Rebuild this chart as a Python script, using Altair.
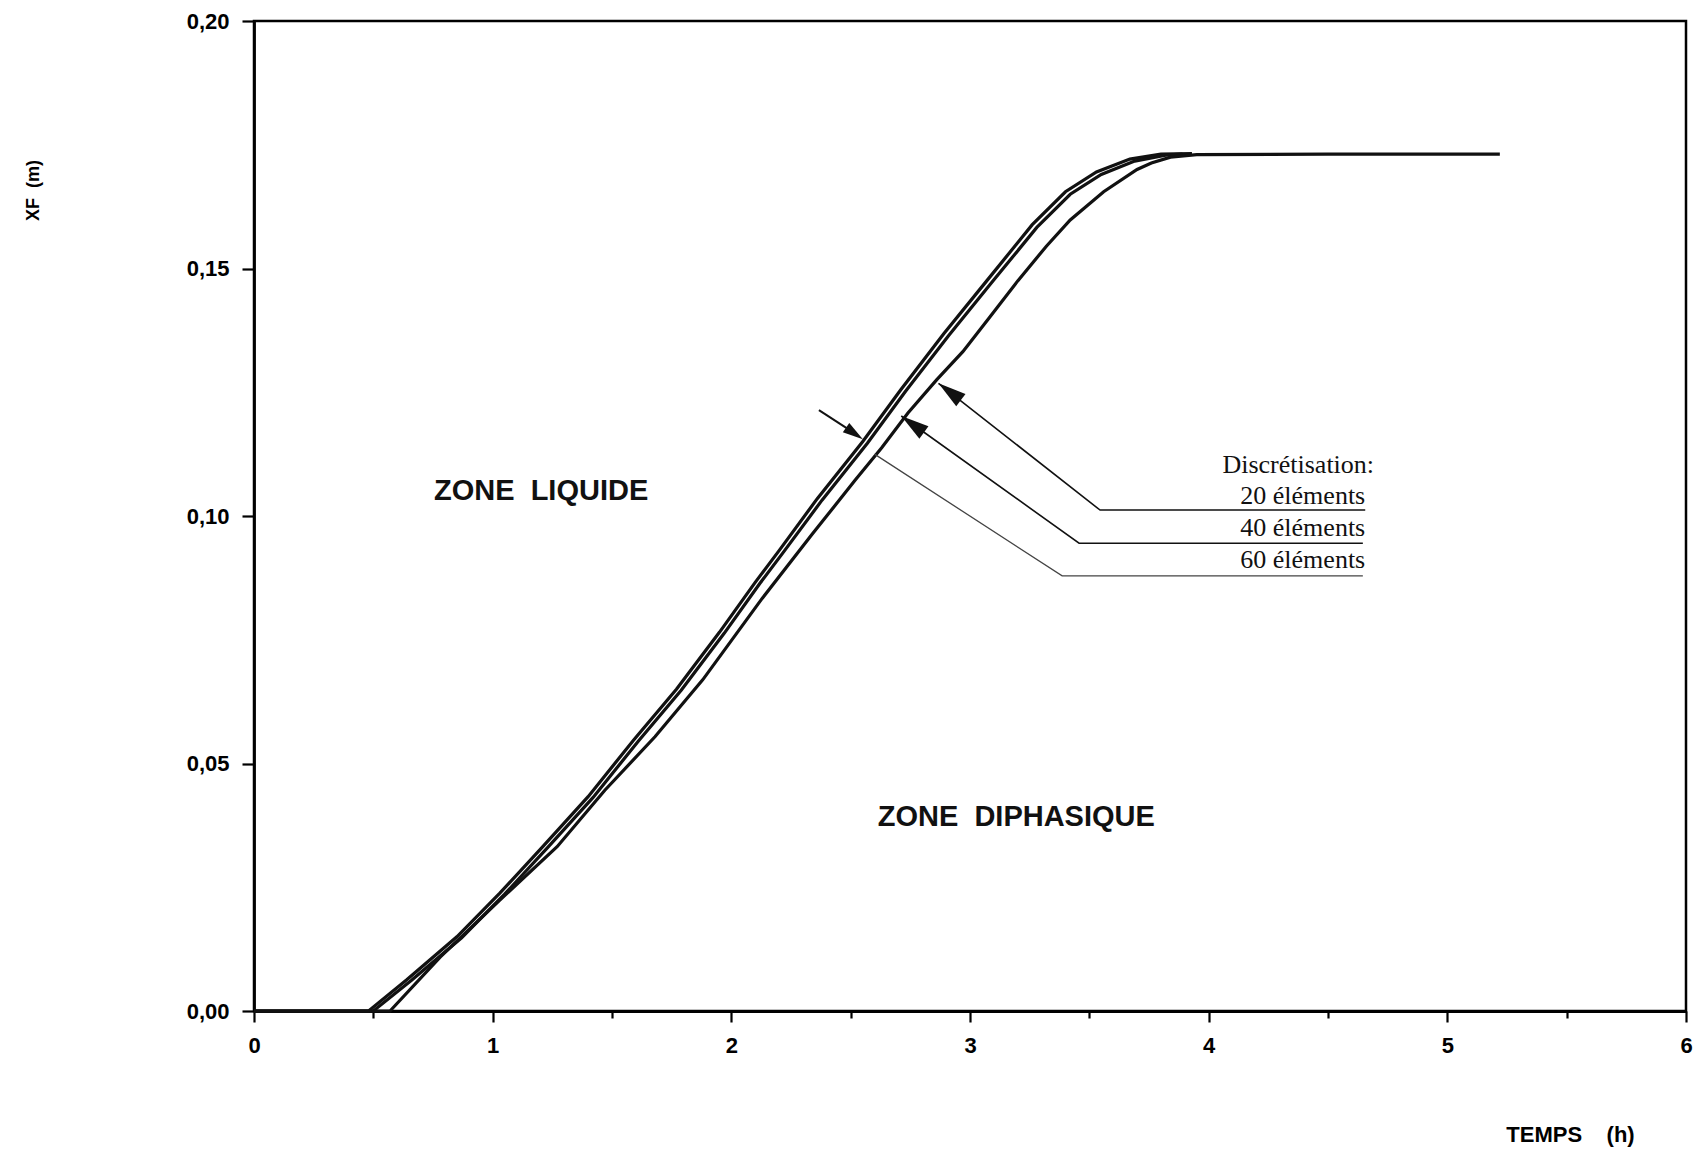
import altair as alt
import pandas as pd

NB = "\u00a0"

# ---------------- data ----------------
# Discrétisation 60 éléments (leading curve)
t_60 = [0.0, 0.25, 0.48, 0.64, 0.85, 1.03, 1.21, 1.40, 1.59, 1.77, 1.95, 2.10, 2.20, 2.36,
        2.55, 2.71, 2.89, 3.07, 3.26, 3.40, 3.53, 3.67, 3.80, 3.93]
xf_60 = [0.0, 0.0, 0.0, 0.0063, 0.0150, 0.0238, 0.0332, 0.0433, 0.0547, 0.0650, 0.0765, 0.0866,
         0.0930, 0.1035, 0.1150, 0.1255, 0.1368, 0.1475, 0.1588, 0.1655, 0.1695, 0.1721, 0.1731, 0.1732]

# Discrétisation 40 éléments (almost on top of the 60 curve)
t_40 = [0.0, 0.25, 0.50, 0.66, 0.87, 1.05, 1.23, 1.42, 1.61, 1.79, 1.97, 2.12, 2.22, 2.38,
        2.57, 2.73, 2.91, 3.09, 3.28, 3.42, 3.55, 3.69, 3.82, 3.89]
xf_40 = [0.0, 0.0, 0.0, 0.0062, 0.0148, 0.0236, 0.0330, 0.0431, 0.0545, 0.0648, 0.0763, 0.0864,
         0.0928, 0.1032, 0.1147, 0.1252, 0.1364, 0.1471, 0.1583, 0.1650, 0.1690, 0.1717, 0.1729, 0.1731]

# Discrétisation 20 éléments (lagging curve, runs to 5.22 h)
t_20 = [0.0, 0.25, 0.57, 0.78, 1.03, 1.27, 1.47, 1.68, 1.88, 2.13, 2.34, 2.52, 2.63, 2.74, 2.86,
        2.97, 3.08, 3.20, 3.32, 3.42, 3.56, 3.70, 3.76, 3.84, 3.95, 4.50, 5.00, 5.22]
xf_20 = [0.0, 0.0, 0.0, 0.0109, 0.0224, 0.0332, 0.0446, 0.0554, 0.0669, 0.0834, 0.0964, 0.1073,
         0.1138, 0.1208, 0.1275, 0.1332, 0.1400, 0.1475, 0.1545, 0.1598, 0.1655, 0.1700, 0.1713,
         0.1725, 0.1730, 0.1731, 0.1731, 0.1731]

# axis ticks
x_ticks = [0, 0.5, 1, 1.5, 2, 2.5, 3, 3.5, 4, 4.5, 5, 5.5, 6]
y_ticks = [0.0, 0.05, 0.10, 0.15, 0.20]

# annotation texts
zone_labels = ["ZONE" + NB + NB + "LIQUIDE", "ZONE" + NB + NB + "DIPHASIQUE"]
zone_t = [1.203, 3.194]
zone_xf = [0.105, 0.0392]

legend_labels = ["Discrétisation:", "20 éléments", "40 éléments", "60 éléments"]
legend_t = [4.693, 4.656, 4.656, 4.656]
legend_xf = [0.1103, 0.1040, 0.0976, 0.0911]

# leader lines: tip -> corner -> end
leader_names = ["20", "40", "60"]
leader_t = [[2.868, 3.545, 4.656], [2.712, 3.457, 4.646], [2.60, 3.386, 4.646]]
leader_xf = [[0.1268, 0.1012, 0.1012], [0.1202, 0.0945, 0.0945], [0.1125, 0.0879, 0.0879]]

# arrow heads (tip position, direction)
head_t = [2.868, 2.712, 2.551]
head_xf = [0.1268, 0.1202, 0.1155]
head_angle = [307, 306, 125]
head_size = [784, 784, 420]

# short arrow shaft for 60 éléments
shaft_t = [2.367, 2.530]
shaft_xf = [0.1214, 0.1163]

# ---------------- tables ----------------
rows = []
for name, ts, ys in [("60", t_60, xf_60), ("40", t_40, xf_40), ("20", t_20, xf_20)]:
    for i, (t, y) in enumerate(zip(ts, ys)):
        rows.append({"t": t, "xf": y, "serie": name, "k": i})
curves = pd.DataFrame(rows)

lrows = []
for name, ts, ys in zip(leader_names, leader_t, leader_xf):
    for i, (t, y) in enumerate(zip(ts, ys)):
        lrows.append({"t": t, "xf": y, "leader": name, "k": i})
leaders = pd.DataFrame(lrows)

heads = pd.DataFrame({"t": head_t, "xf": head_xf, "ang": head_angle, "sz": head_size})
shaft = pd.DataFrame({"t": shaft_t, "xf": shaft_xf, "k": [0, 1]})
zones = pd.DataFrame({"t": zone_t, "xf": zone_xf, "label": zone_labels})
legend = pd.DataFrame({"t": legend_t, "xf": legend_xf, "label": legend_labels})

# ---------------- encodings ----------------
X = alt.X(
    "t:Q",
    scale=alt.Scale(domain=[0, 6], nice=False, zero=False),
    axis=alt.Axis(
        values=x_ticks,
        labelExpr="datum.value % 1 === 0 ? format(datum.value, 'd') : ''",
        title="TEMPS" + NB * 4 + "(h)",
        titleX=1316, titleY=123, titleAlign="center", titleBaseline="middle",
        titleFont="Liberation Sans", titleFontSize=22, titleFontWeight="bold", titleColor="black",
        labelFont="Liberation Sans", labelFontSize=22, labelFontWeight="bold", labelColor="black",
        labelPadding=13, labelFlush=False, labelOverlap=False,
        tickSize={"condition": {"test": "datum.value % 1 !== 0", "value": 7}, "value": 11},
        tickWidth=2.2, tickColor="black",
        domainColor="black", domainWidth=2.8, grid=False,
    ),
)
Y = alt.Y(
    "xf:Q",
    scale=alt.Scale(domain=[0, 0.2], nice=False, zero=False),
    axis=alt.Axis(
        values=y_ticks,
        labelExpr="replace(format(datum.value, '.2f'), '.', ',')",
        title="XF" + NB * 2 + "(m)",
        titleAngle=270, titleX=-221, titleY=169, titleAlign="center", titleBaseline="middle",
        titleFont="Liberation Sans", titleFontSize=18, titleFontWeight="bold", titleColor="black",
        labelFont="Liberation Sans", labelFontSize=22, labelFontWeight="bold", labelColor="black",
        labelPadding=13, labelOverlap=False,
        tickSize=12, tickWidth=2.2, tickColor="black",
        domainColor="black", domainWidth=2.8, grid=False,
    ),
)

curve_layer = alt.Chart(curves).mark_line(color="#111111", strokeWidth=3.2).encode(
    x=X, y=Y, detail="serie:N", order="k:Q"
)

leader_main = alt.Chart(leaders).transform_filter("datum.leader !== '60'").mark_line(
    color="#111111", strokeWidth=1.6
).encode(x=X, y=Y, detail="leader:N", order="k:Q")

leader_60 = alt.Chart(leaders).transform_filter("datum.leader === '60'").mark_line(
    color="#444444", strokeWidth=1.3
).encode(x=X, y=Y, detail="leader:N", order="k:Q")

shaft_layer = alt.Chart(shaft).mark_line(color="#111111", strokeWidth=2).encode(
    x=X, y=Y, order="k:Q"
)

head_layer = alt.Chart(heads).mark_point(
    shape="M0,0L0.55,2L-0.55,2Z", filled=True, color="#111111", opacity=1, strokeWidth=0
).encode(
    x=X, y=Y,
    angle=alt.Angle("ang:Q", scale=None),
    size=alt.Size("sz:Q", scale=None),
)

zone_layer = alt.Chart(zones).mark_text(
    font="Liberation Sans", fontSize=29, fontWeight="bold", color="#111111",
    align="center", baseline="middle"
).encode(x=X, y=Y, text="label:N")

legend_layer = alt.Chart(legend).mark_text(
    font="Liberation Serif", fontSize=26, color="#111111", align="right", baseline="middle"
).encode(x=X, y=Y, text="label:N")

chart = alt.layer(
    curve_layer, leader_main, leader_60, shaft_layer, head_layer, zone_layer, legend_layer
).properties(
    width=1432,
    height=990,
    autosize=alt.AutoSizeParams(type="none"),
    padding={"left": 246, "top": 13, "right": 7, "bottom": 138},
    background="white",
).configure_view(
    stroke="black", strokeWidth=2.5
)

chart.save("out.html", embed_options={"renderer": "svg", "actions": False})
